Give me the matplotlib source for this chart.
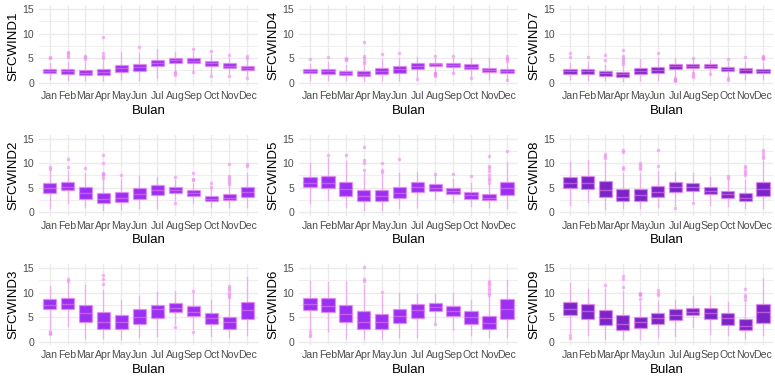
import matplotlib
matplotlib.use("Agg")
import matplotlib.pyplot as plt
from matplotlib.ticker import MultipleLocator

# ==========================================
# 1. DATA
# ==========================================

MONTHS = ["Jan", "Feb", "Mar", "Apr", "May", "Jun",
          "Jul", "Aug", "Sep", "Oct", "Nov", "Dec"]

# each row: (whisker low, q1, median, q3, whisker high)
SFCWIND1_BOX = [(0.8, 2.0, 2.4, 2.8, 4.0), (0.5, 1.8, 2.3, 2.8, 4.3), (0.5, 1.5, 2.0, 2.6, 4.2),
                (0.5, 1.6, 2.1, 2.8, 4.5), (0.7, 2.1, 2.9, 3.6, 6.3), (0.5, 2.3, 3.1, 3.8, 6.0),
                (1.0, 3.3, 4.0, 4.7, 6.8), (2.5, 4.0, 4.6, 5.1, 6.3), (2.6, 4.0, 4.5, 5.0, 6.3),
                (1.8, 3.4, 3.9, 4.4, 5.8), (1.7, 3.0, 3.4, 3.9, 5.1), (1.3, 2.5, 2.9, 3.4, 4.6)]
SFCWIND1_OUT = [[5.0, 5.3], [5.2, 5.6, 6.0, 6.2], [4.8, 5.2, 5.5], [5.0, 5.5, 6.0, 9.2], [], [7.2],
                [], [1.6, 1.9, 2.2], [2.1, 6.8], [1.3, 6.4], [1.3, 5.6], [0.9, 5.0, 5.5]]

SFCWIND2_BOX = [(0.8, 3.9, 4.9, 5.9, 8.5), (2.0, 4.5, 5.2, 6.2, 8.5), (1.0, 2.7, 3.9, 5.2, 8.0),
                (0.5, 2.0, 2.8, 3.9, 6.5), (0.7, 2.2, 2.9, 4.2, 6.8), (0.8, 2.7, 3.7, 4.9, 7.3),
                (0.8, 3.5, 4.5, 5.6, 7.2), (2.5, 3.9, 4.6, 5.2, 6.5), (2.0, 3.4, 3.9, 4.5, 6.0),
                (1.0, 2.3, 2.8, 3.4, 5.0), (1.0, 2.5, 3.0, 3.7, 5.5), (1.0, 3.2, 4.1, 5.2, 8.0)]
SFCWIND2_OUT = [[8.8, 9.2], [9.3, 10.8], [9.1], [7.0, 7.5, 7.8, 8.0, 10.1, 11.7], [7.6], [],
                [], [1.9, 7.2], [6.5, 6.8, 8.1], [5.2, 5.9], [5.8, 6.2, 6.6, 7.0, 7.3, 9.8], [9.4, 9.9]]

SFCWIND3_BOX = [(2.8, 6.6, 7.4, 8.6, 11.3), (3.2, 6.6, 7.7, 8.8, 12.0), (0.8, 3.9, 5.9, 7.4, 11.5),
                (0.7, 2.6, 4.1, 6.0, 10.5), (0.5, 2.6, 4.0, 5.5, 8.5), (0.9, 3.5, 5.1, 6.7, 9.3),
                (1.2, 4.9, 6.6, 7.4, 10.1), (3.5, 6.1, 6.9, 7.9, 10.3), (2.5, 5.3, 6.1, 7.2, 10.0),
                (1.2, 3.5, 4.9, 5.9, 8.5), (1.0, 2.6, 3.9, 5.0, 8.8), (1.3, 4.6, 6.4, 8.1, 13.2)]
SFCWIND3_OUT = [[1.5, 1.8, 2.2], [12.4, 12.8], [], [11.7, 12.8, 13.5], [], [],
                [], [3.0], [2.0, 10.3], [], [9.0, 9.5, 10.0, 10.5, 11.0, 11.4], []]

SFCWIND4_BOX = [(0.6, 1.9, 2.3, 2.7, 3.8), (0.5, 1.8, 2.3, 2.8, 4.3), (0.5, 1.5, 1.9, 2.3, 3.5),
                (0.4, 1.3, 1.8, 2.3, 3.6), (0.5, 1.8, 2.4, 3.0, 4.8), (0.5, 2.0, 2.7, 3.3, 5.0),
                (1.2, 2.8, 3.3, 3.9, 5.3), (2.2, 3.3, 3.7, 4.0, 5.0), (2.2, 3.2, 3.6, 4.0, 5.0),
                (1.3, 2.7, 3.1, 3.7, 5.0), (0.8, 2.2, 2.6, 3.0, 5.0), (0.8, 2.0, 2.4, 2.8, 4.0)]
SFCWIND4_OUT = [[4.8], [5.3], [4.6, 4.9, 5.1], [4.0, 4.5, 5.0, 5.5, 8.3], [5.8], [6.0],
                [0.8], [1.3, 1.6, 1.9, 2.0, 5.4], [1.9, 5.5], [1.0], [], [0.5, 4.5, 4.8, 5.0, 5.4]]

SFCWIND5_BOX = [(1.8, 5.2, 5.9, 7.2, 10.0), (2.5, 5.0, 6.0, 7.4, 11.0), (1.0, 3.4, 4.8, 6.2, 10.5),
                (0.5, 2.3, 3.3, 4.6, 8.0), (0.5, 2.4, 3.3, 4.5, 7.8), (0.8, 3.0, 4.0, 5.2, 8.0),
                (1.0, 4.1, 5.1, 6.2, 8.2), (2.8, 4.4, 5.0, 5.7, 7.5), (2.2, 3.8, 4.4, 5.0, 6.8),
                (1.2, 2.8, 3.5, 4.2, 6.0), (1.0, 2.5, 3.0, 3.8, 5.6), (0.8, 3.5, 4.9, 6.2, 10.2)]
SFCWIND5_OUT = [[], [11.7], [11.6], [8.6, 10.0, 10.6, 13.2], [8.3, 8.6, 10.1], [10.8],
                [], [7.9], [7.8], [7.3], [6.0, 6.5, 7.0, 7.5, 8.5, 9.0, 9.5, 11.4], [12.4]]

SFCWIND6_BOX = [(2.6, 6.4, 7.6, 8.8, 12.3), (2.2, 6.0, 7.3, 8.8, 12.1), (0.7, 3.9, 5.7, 7.5, 12.4),
                (0.6, 2.6, 4.0, 6.2, 11.5), (0.5, 2.6, 4.0, 5.6, 9.5), (1.0, 3.8, 5.2, 6.6, 10.0),
                (0.9, 4.9, 6.4, 7.6, 9.7), (4.0, 6.2, 7.0, 7.9, 9.8), (2.3, 5.3, 6.2, 7.3, 10.0),
                (1.3, 3.5, 5.0, 6.2, 8.5), (1.0, 2.6, 3.7, 5.2, 9.0), (0.9, 4.7, 6.7, 8.6, 12.6)]
SFCWIND6_OUT = [[1.2, 1.6, 2.1], [], [], [12.4, 12.7, 15.1], [10.2], [],
                [], [3.6], [], [], [9.5, 10.0, 10.5, 11.0, 11.5, 12.0, 12.3], []]

SFCWIND7_BOX = [(0.8, 1.8, 2.3, 2.7, 4.0), (0.6, 1.8, 2.3, 2.8, 4.2), (0.5, 1.4, 1.9, 2.3, 3.6),
                (0.4, 1.2, 1.7, 2.2, 3.5), (0.5, 1.8, 2.3, 2.9, 4.8), (0.5, 1.9, 2.6, 3.2, 5.0),
                (1.3, 2.8, 3.3, 3.8, 5.0), (2.0, 3.0, 3.4, 3.8, 4.8), (2.1, 3.0, 3.3, 3.7, 4.7),
                (1.2, 2.4, 2.8, 3.2, 4.3), (0.7, 2.0, 2.5, 2.9, 4.2), (0.7, 1.9, 2.3, 2.7, 3.9)]
SFCWIND7_OUT = [[5.2, 6.0], [5.2], [4.6, 5.6], [3.8, 4.2, 4.6, 5.0, 5.4, 6.6], [], [6.0],
                [0.3, 0.6, 0.8, 1.0], [1.2, 1.5, 1.9, 5.0], [1.8], [0.6, 0.9, 4.8], [5.2],
                [4.8, 5.0, 5.3, 5.5]]

SFCWIND8_BOX = [(1.5, 5.0, 6.0, 7.2, 10.2), (2.2, 4.8, 6.0, 7.3, 10.6), (0.6, 3.1, 4.5, 6.3, 10.5),
                (0.8, 2.3, 3.2, 4.7, 8.0), (0.8, 2.4, 3.5, 4.8, 8.0), (1.0, 3.2, 4.2, 5.3, 8.5),
                (1.5, 4.2, 5.1, 6.2, 8.3), (2.5, 4.4, 5.1, 5.9, 8.0), (1.5, 3.7, 4.4, 5.1, 7.2),
                (1.2, 3.0, 3.7, 4.4, 6.5), (0.9, 2.4, 3.0, 4.0, 6.5), (0.9, 3.4, 4.8, 6.2, 10.5)]
SFCWIND8_OUT = [[], [], [11.0, 11.5, 11.8], [8.8, 9.3, 12.2, 12.7], [8.8, 9.3, 9.7, 10.1], [9.4, 12.7],
                [0.9], [1.9], [], [6.9, 7.3], [7.5, 8.0, 8.5, 9.0, 9.5], [11.0, 11.5, 12.0, 12.7]]

SFCWIND9_BOX = [(2.0, 5.4, 6.7, 8.1, 11.9), (1.3, 4.7, 6.2, 7.7, 10.8), (0.6, 3.4, 4.9, 6.5, 10.8),
                (0.6, 2.4, 3.5, 5.4, 10.3), (0.6, 2.7, 3.9, 5.0, 8.0), (1.0, 3.5, 4.9, 5.8, 8.2),
                (1.2, 4.4, 5.5, 6.6, 8.5), (3.0, 5.4, 6.1, 6.8, 9.3), (1.6, 4.7, 5.9, 6.9, 9.2),
                (1.3, 3.4, 4.9, 5.9, 8.0), (0.7, 2.4, 3.2, 4.7, 7.8), (1.3, 3.8, 6.0, 7.7, 13.0)]
SFCWIND9_OUT = [[0.7, 1.3], [], [11.6], [11.2, 12.8, 13.3], [8.7, 9.4, 9.8, 10.0], [9.5, 10.0, 10.6],
                [], [], [], [], [8.5, 9.0, 9.4, 10.7], []]

# panel order: column by column, like the reference
PANELS = [
    ("SFCWIND1", SFCWIND1_BOX, SFCWIND1_OUT), ("SFCWIND4", SFCWIND4_BOX, SFCWIND4_OUT), ("SFCWIND7", SFCWIND7_BOX, SFCWIND7_OUT),
    ("SFCWIND2", SFCWIND2_BOX, SFCWIND2_OUT), ("SFCWIND5", SFCWIND5_BOX, SFCWIND5_OUT), ("SFCWIND8", SFCWIND8_BOX, SFCWIND8_OUT),
    ("SFCWIND3", SFCWIND3_BOX, SFCWIND3_OUT), ("SFCWIND6", SFCWIND6_BOX, SFCWIND6_OUT), ("SFCWIND9", SFCWIND9_BOX, SFCWIND9_OUT),
]

# ==========================================
# 2. STYLE
# ==========================================
plt.rcParams['font.family'] = ['Liberation Sans', 'DejaVu Sans']

FILL_LIGHT = "#9b30f2"
FILL_DARK = "#7b25c9"
EDGE = (0.933, 0.51, 0.933, 0.55)     # violet, semi transparent
GRID = "#ebebeb"

COL_LEFT = [0.050, 0.386, 0.722]
COL_WIDTH = [0.283, 0.282, 0.276]
ROW_BOTTOM = [0.771, 0.427, 0.084]
ROW_HEIGHT = 0.215


def make_stats(box, outliers):
    stats = []
    for (lo, q1, med, q3, hi), fl in zip(box, outliers):
        stats.append(dict(whislo=lo, q1=q1, med=med, q3=q3, whishi=hi, fliers=fl))
    return stats


# ==========================================
# 3. PLOTTING
# ==========================================
fig = plt.figure(figsize=(7.75, 3.77), dpi=100)

for i, (name, box, outs) in enumerate(PANELS):
    row, col = divmod(i, 3)
    ax = fig.add_axes([COL_LEFT[col], ROW_BOTTOM[row], COL_WIDTH[col], ROW_HEIGHT])
    fill = FILL_DARK if col == 2 else FILL_LIGHT

    ax.bxp(make_stats(box, outs), positions=list(range(len(MONTHS))), widths=0.75,
           patch_artist=True, showcaps=False,
           boxprops=dict(facecolor=fill, edgecolor=EDGE, linewidth=1.0),
           whiskerprops=dict(color=EDGE, linewidth=1.0),
           medianprops=dict(color=EDGE, linewidth=1.0),
           flierprops=dict(marker='o', markersize=2.6, markerfacecolor=EDGE,
                           markeredgecolor='none', linestyle='none'),
           zorder=3)

    ax.set_xlim(-0.6, len(MONTHS) - 0.4)
    ax.set_ylim(-0.75, 15.75)
    ax.set_xticks(range(len(MONTHS)))
    ax.set_xticklabels(MONTHS)
    ax.yaxis.set_major_locator(MultipleLocator(5))
    ax.yaxis.set_minor_locator(MultipleLocator(2.5))

    ax.grid(True, which='major', color=GRID, linewidth=1.0, zorder=0)
    ax.grid(True, which='minor', axis='y', color=GRID, linewidth=0.6, zorder=0)
    ax.set_axisbelow(True)
    for s in ax.spines.values():
        s.set_visible(False)
    ax.tick_params(which='both', length=0, labelsize=7.6, labelcolor="#4d4d4d", pad=3.5)

    ax.set_xlabel("Bulan", fontsize=9.5, labelpad=2.5)
    ax.set_ylabel(name, fontsize=9.5, labelpad=2)

plt.savefig("out.png", dpi=100)
plt.close()
